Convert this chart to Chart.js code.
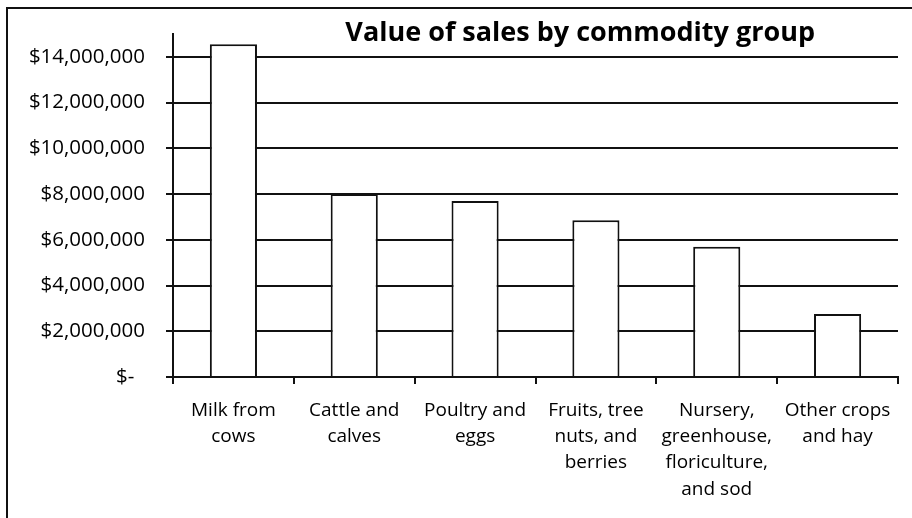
<!DOCTYPE html>
<html>
<head>
<meta charset="utf-8">
<script src="https://cdn.jsdelivr.net/npm/chart.js@4.4.1/dist/chart.umd.min.js"></script>
<style>
    html, body { margin: 0; padding: 0; background: #fff; }
    #wrap { width: 912px; height: 518px; position: relative; }
</style>
</head>
<body>
<div id="wrap"><canvas id="salesChart" width="912" height="518"></canvas></div>
<script>
// Chart data
const categories = [
    ['Milk from', 'cows'],
    ['Cattle and', 'calves'],
    ['Poultry and', 'eggs'],
    ['Fruits, tree', 'nuts, and', 'berries'],
    ['Nursery,', 'greenhouse,', 'floriculture,', 'and sod'],
    ['Other crops', 'and hay']
];
const salesValues = [14550000, 8000000, 7700000, 6850000, 5700000, 2750000];
const yTickValues = [0, 2000000, 4000000, 6000000, 8000000, 10000000, 12000000, 14000000];
const chartTitle = 'Value of sales by commodity group';

const FONT = "'Open Sans', 'Liberation Sans', sans-serif";

// Title sits off-centre in the original, so draw it ourselves
const titlePlugin = {
    id: 'offsetTitle',
    afterDraw(chart) {
        const ctx = chart.ctx;
        ctx.save();
        ctx.font = 'bold 27px ' + FONT;
        ctx.fillStyle = '#000';
        ctx.textAlign = 'right';
        ctx.textBaseline = 'middle';
        ctx.fillText(chartTitle, chart.chartArea.right - 83, 33);
        ctx.restore();
    }
};

// Left and top edges of the scanned frame
const framePlugin = {
    id: 'frame',
    beforeDraw(chart) {
        const ctx = chart.ctx;
        ctx.save();
        ctx.strokeStyle = '#111';
        ctx.lineWidth = 2;
        ctx.beginPath();
        ctx.moveTo(7, chart.height);
        ctx.lineTo(7, 8);
        ctx.lineTo(chart.width, 8);
        ctx.stroke();
        ctx.restore();
    }
};

const salesChart = new Chart(document.getElementById('salesChart'), {
    type: 'bar',
    data: {
        labels: categories,
        datasets: [{
            label: 'Value of sales',
            data: salesValues,
            backgroundColor: '#ffffff',
            borderColor: '#111',
            borderWidth: 2,
            barPercentage: 0.39,
            categoryPercentage: 1.0
        }]
    },
    options: {
        responsive: false,
        animation: false,
        layout: {
            padding: { left: 0, right: 14, top: 34, bottom: 0 }
        },
        scales: {
            x: {
                afterFit: scale => { scale.height = 141; },
                grid: {
                    drawOnChartArea: false,
                    drawTicks: true,
                    tickLength: 7,
                    offset: true,
                    color: '#111',
                    lineWidth: 2
                },
                border: { display: true, color: '#111', width: 2 },
                ticks: {
                    color: '#000',
                    padding: 14,
                    maxRotation: 0,
                    autoSkip: false,
                    font: { family: FONT, size: 19, lineHeight: 1.37 }
                }
            },
            y: {
                min: 0,
                max: 15000000,
                afterFit: scale => { scale.width = 173; },
                afterBuildTicks: scale => {
                    scale.ticks = yTickValues.map(v => ({ value: v }));
                },
                grid: {
                    color: '#111',
                    lineWidth: 2,
                    drawTicks: true,
                    tickLength: 7
                },
                border: { display: true, color: '#111', width: 2 },
                ticks: {
                    color: '#000',
                    padding: 21,
                    font: { family: FONT, size: 20.5 },
                    callback: v => v === 0 ? '$-  ' : '$' + v.toLocaleString('en-US')
                }
            }
        },
        plugins: {
            legend: { display: false },
            title: { display: false },
            tooltip: { enabled: false }
        }
    },
    plugins: [framePlugin, titlePlugin]
});
</script>
</body>
</html>
